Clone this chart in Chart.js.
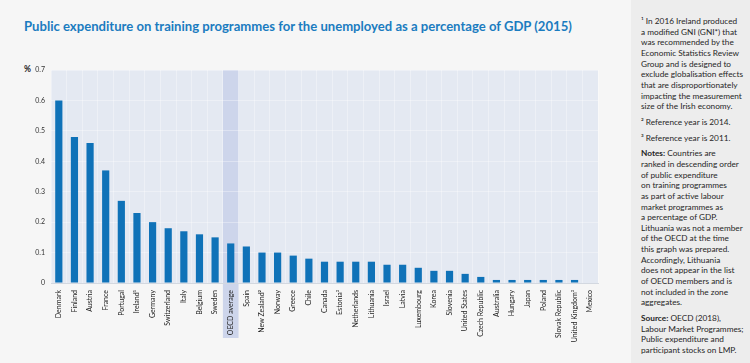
<!DOCTYPE html>
<html>
<head>
<meta charset="utf-8">
<script src="https://cdn.jsdelivr.net/npm/chart.js@4.4.1/dist/chart.umd.min.js"></script>
<style>
  html, body { margin: 0; padding: 0; background: #f6f6f6; }
  #wrap { position: relative; width: 750px; height: 363px; overflow: hidden; background: #f6f6f6; font-family: Lato, "Open Sans", sans-serif; }
  #title { position: absolute; left: 24px; top: 18px; font-weight: bold; font-size: 14px; color: #1b7cc0; white-space: nowrap; }
  #pct { position: absolute; left: 24px; top: 64px; font-weight: bold; font-size: 8.5px; color: #222; }
  #cwrap { position: absolute; left: 0; top: 0; width: 631px; height: 363px; }
  #panel { position: absolute; left: 631px; top: 0; width: 119px; height: 363px; background: #ededed; }
  #notes { position: absolute; left: 10px; top: 16px; width: 112px; font-size: 8.25px; line-height: 10.65px; color: #262626; white-space: nowrap; }
  #notes p { margin: 0 0 5px 0; }
  #notes b { font-weight: bold; }
</style>
</head>
<body>
<div id="wrap">
  <div id="title"><span id="tspan">Public expenditure on training programmes for the unemployed as a percentage of GDP (2015)</span></div>
  <div id="pct">%</div>
  <div id="cwrap"><canvas id="c" width="631" height="363"></canvas></div>
  <div id="panel">
    <div id="notes">
      <p>¹ In 2016 Ireland produced<br>a modified GNI (GNI*) that<br>was recommended by the<br>Economic Statistics Review<br>Group and is designed to<br>exclude globalisation effects<br>that are disproportionately<br>impacting the measurement<br>size of the Irish economy.</p>
      <p>² Reference year is 2014.</p>
      <p>³ Reference year is 2011.</p>
      <p><b>Notes:</b> Countries are<br>ranked in descending order<br>of public expenditure<br>on training programmes<br>as part of active labour<br>market programmes as<br>a percentage of GDP.<br>Lithuania was not a member<br>of the OECD at the time<br>this graph was prepared.<br>Accordingly, Lithuania<br>does not appear in the list<br>of OECD members and is<br>not included in the zone<br>aggregates.</p>
      <p><b>Source:</b> OECD (2018),<br>Labour Market Programmes;<br>Public expenditure and<br>participant stocks on LMP.</p>
    </div>
  </div>
</div>
<script>
const countries = ["Denmark","Finland","Austria","France","Portugal","Ireland¹","Germany","Switzerland","Italy","Belgium","Sweden","OECD average","Spain","New Zealand²","Norway","Greece","Chile","Canada","Estonia³","Netherlands","Lithuania","Israel","Latvia","Luxembourg","Korea","Slovenia","United States","Czech Republic","Australia","Hungary","Japan","Poland","Slovak Republic","United Kingdom³","Mexico"];
const expenditure = [0.60,0.48,0.46,0.37,0.27,0.23,0.20,0.18,0.17,0.16,0.15,0.13,0.12,0.10,0.10,0.09,0.08,0.07,0.07,0.07,0.07,0.06,0.06,0.05,0.04,0.04,0.03,0.02,0.01,0.01,0.01,0.01,0.01,0.01,0.00];
const yTicks = [0,0.1,0.2,0.3,0.4,0.5,0.6,0.7];
const highlightCategory = "OECD average";

// fit title to reference width
(function () {
  const span = document.getElementById('tspan');
  const t = document.getElementById('title');
  const w = span.getBoundingClientRect().width;
  if (w > 0) t.style.fontSize = (14 * 548 / w).toFixed(2) + 'px';
})();

const bgPlugin = {
  id: 'bgPlugin',
  beforeDraw(chart) {
    const {ctx, chartArea: a, scales: {x}} = chart;
    ctx.save();
    ctx.fillStyle = '#e4e9f2';
    ctx.fillRect(a.left, a.top, a.right - a.left, a.bottom - a.top);
    const i = countries.indexOf(highlightCategory);
    const w = (a.right - a.left) / countries.length;
    const cx = x.getPixelForValue(i);
    ctx.fillStyle = '#cdd5eb';
    ctx.fillRect(cx - w / 2, a.top, w, 338 - a.top);
    ctx.restore();
  }
};

new Chart(document.getElementById('c'), {
  type: 'bar',
  data: {
    labels: countries,
    datasets: [{
      data: expenditure,
      backgroundColor: '#0f72b8',
      borderWidth: 0,
      barPercentage: 0.46,
      categoryPercentage: 1.0
    }]
  },
  options: {
    responsive: false,
    animation: false,
    events: [],
    layout: { padding: { top: 70, right: 33, left: 0, bottom: 0 } },
    plugins: { legend: { display: false }, tooltip: { enabled: false } },
    scales: {
      x: {
        offset: true,
        grid: { color: 'rgba(255,255,255,0.35)', drawTicks: false, offset: true },
        border: { color: '#d3d8e0', width: 1 },
        ticks: {
          autoSkip: false, minRotation: 90, maxRotation: 90, padding: 7,
          color: '#222', font: { family: 'Lato', size: 7 }
        },
        afterFit(s) { s.height = 80; }
      },
      y: {
        min: 0, max: 0.7,
        afterBuildTicks(s) { s.ticks = yTicks.map(v => ({ value: v })); },
        grid: { color: 'rgba(255,255,255,0.35)', drawTicks: false },
        border: { display: false },
        ticks: {
          padding: 6, color: '#333', font: { family: 'Lato', size: 7 },
          callback: v => (v === 0 ? '0' : v.toFixed(1))
        },
        afterFit(s) { s.width = 51; }
      }
    }
  },
  plugins: [bgPlugin]
});
</script>
</body>
</html>
